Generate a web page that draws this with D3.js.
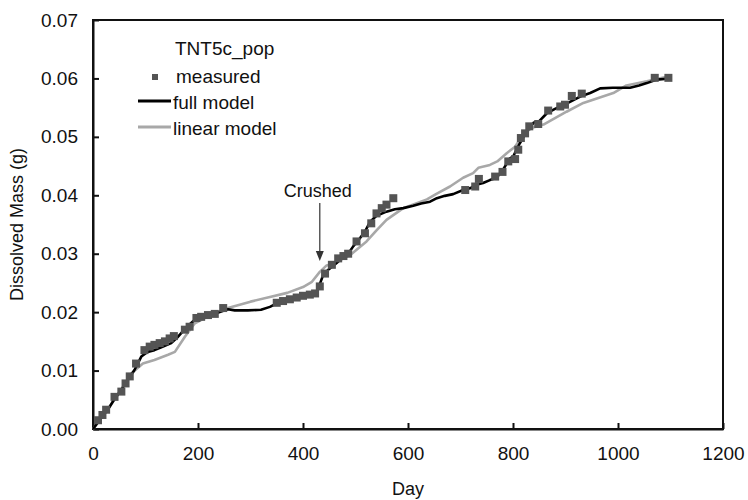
<!DOCTYPE html>
<html><head><meta charset="utf-8">
<script src="https://cdn.jsdelivr.net/npm/d3@7"></script>
<style>
html,body{margin:0;padding:0;background:#fff;}
text{font-family:"Liberation Sans",Arial,sans-serif;fill:#111;}
</style></head>
<body>
<svg id="chart" width="748" height="500"></svg>
<script>
// ---- data ----
const measuredDay = [9.5,18,25,41,54,62,70,82,98,108,117,127,137,146,154,175,184,197,206,219,232,248,350,362,375,388,400,413,423,432,442,455,467,477,486,502,518,530,540,550,559,572,709,728,735,766,780,791,804,810,815,823,831,848,867,890,899,912,931,1070,1096];
const measuredMass = [0.0015,0.0024,0.0033,0.0055,0.0064,0.0078,0.0090,0.0112,0.0135,0.0141,0.0144,0.0147,0.0150,0.0155,0.0159,0.0170,0.0175,0.0190,0.0192,0.0195,0.0197,0.0207,0.0216,0.0219,0.0222,0.0225,0.0228,0.0230,0.0232,0.0244,0.0266,0.0281,0.0292,0.0296,0.0300,0.0321,0.0335,0.0352,0.0369,0.0378,0.0384,0.0395,0.0409,0.0415,0.0428,0.0432,0.0440,0.0458,0.0462,0.0478,0.0498,0.0506,0.0518,0.0522,0.0545,0.0552,0.0555,0.0570,0.0574,0.0601,0.0601];

const fullDay = [0,10,20,29,40,54,66,79,92,104,117,130,149,160,168,180,194,207,219,232,244,257,270,295,320,337,350,369,385,400,415,426,432,439,450,464,475,486,496,508,518,528,540,559,575,591,610,625,642,655,670,686,705,718,730,743,756,769,781,794,800,813,826,839,850,864,880,902,928,947,966,990,1023,1040,1055,1074,1099];
const fullMass = [0,0.0012,0.0024,0.0034,0.0050,0.0067,0.0084,0.0101,0.0124,0.0132,0.0135,0.0140,0.0147,0.0156,0.0164,0.0176,0.0187,0.0192,0.0195,0.0197,0.0201,0.0205,0.0203,0.0203,0.0204,0.0209,0.0215,0.0218,0.0222,0.0226,0.0229,0.0232,0.0248,0.0265,0.0274,0.0284,0.0293,0.0300,0.0313,0.0326,0.0338,0.0355,0.0365,0.0372,0.0376,0.0378,0.0382,0.0386,0.0389,0.0395,0.0399,0.0402,0.0409,0.0412,0.0418,0.0421,0.0426,0.0430,0.0444,0.0463,0.0466,0.0489,0.0509,0.0524,0.0527,0.0540,0.0548,0.0557,0.0569,0.0575,0.0583,0.0584,0.0584,0.0588,0.0592,0.0598,0.0600];

const linearDay = [0,29,50,73,95,117,143,156,175,194,219,257,300,337,370,400,417,432,445,458,490,521,540,559,591,636,655,680,705,724,734,756,770,788,804,820,835,858,880,902,934,991,1016,1055,1093];
const linearMass = [0,0.0035,0.0062,0.0095,0.0112,0.0118,0.0127,0.0132,0.0158,0.0181,0.0193,0.0207,0.0218,0.0226,0.0233,0.0243,0.0252,0.0269,0.0280,0.0283,0.0298,0.0321,0.0340,0.0358,0.0378,0.0393,0.0403,0.0415,0.0430,0.0438,0.0447,0.0452,0.0458,0.0472,0.0483,0.0505,0.0515,0.0521,0.0532,0.0543,0.0558,0.0575,0.0588,0.0595,0.0603];

const xTicks = [0,200,400,600,800,1000,1200];
const yTicks = [0,0.01,0.02,0.03,0.04,0.05,0.06,0.07];
const legendTitle = "TNT5c_pop";
const seriesNames = ["measured","full model","linear model"];
const crushedDay = 432;
const crushedLabel = "Crushed";

// ---- layout ----
const svg = d3.select("#chart");
const L = 93, R = 723, T = 20, B = 429;
const x = d3.scaleLinear().domain([0,1200]).range([L,R]);
const y = d3.scaleLinear().domain([0,0.07]).range([B,T]);

// frame
svg.append("rect").attr("x",L).attr("y",T).attr("width",R-L).attr("height",B-T)
  .attr("fill","none").attr("stroke","#111").attr("stroke-width",2);

// axes with inward ticks
const xAxis = d3.axisBottom(x).tickValues(xTicks).tickSizeInner(-6).tickSizeOuter(0).tickPadding(18)
  .tickFormat(d3.format("d"));
const gx = svg.append("g").attr("transform",`translate(0,${B})`).call(xAxis);
const yAxis = d3.axisLeft(y).tickValues(yTicks).tickSizeInner(-6).tickSizeOuter(0).tickPadding(15)
  .tickFormat(d3.format(".2f"));
const gy = svg.append("g").attr("transform",`translate(${L},0)`).call(yAxis);
[gx,gy].forEach(g=>{
  g.select(".domain").attr("stroke","#111").attr("stroke-width",2);
  g.selectAll(".tick line").attr("stroke","#111").attr("stroke-width",2);
  g.selectAll(".tick text").style("font-family","'Liberation Sans',Arial,sans-serif")
    .style("font-size","19px").attr("fill","#111");
});

// axis titles
svg.append("text").attr("x",(L+R)/2).attr("y",495).attr("text-anchor","middle")
  .style("font-size","18px").text("Day");
svg.append("text").attr("transform",`translate(23,${(T+B)/2}) rotate(-90)`)
  .attr("text-anchor","middle").style("font-size","18px").text("Dissolved Mass (g)");

// lines
const line = d3.line().x(d=>x(d[0])).y(d=>y(d[1]));
const linPts = linearDay.map((d,i)=>[d,linearMass[i]]);
const fullPts = fullDay.map((d,i)=>[d,fullMass[i]]);
const measPts = measuredDay.map((d,i)=>[d,measuredMass[i]]);

svg.append("path").datum(linPts).attr("d",line).attr("fill","none")
  .attr("stroke","#a8a8a8").attr("stroke-width",2.6).attr("stroke-linejoin","round");
svg.append("path").datum(fullPts).attr("d",line).attr("fill","none")
  .attr("stroke","#000").attr("stroke-width",2.6).attr("stroke-linejoin","round");

const ms = 8;
svg.append("g").selectAll("rect").data(measPts).join("rect")
  .attr("x",d=>x(d[0])-ms/2).attr("y",d=>y(d[1])-ms/2)
  .attr("width",ms).attr("height",ms).attr("fill","#545454");

// crushed annotation
const cx = x(crushedDay);
svg.append("text").attr("x",cx-2).attr("y",197).attr("text-anchor","middle")
  .style("font-size","18px").text(crushedLabel);
svg.append("line").attr("x1",cx).attr("x2",cx).attr("y1",203).attr("y2",254)
  .attr("stroke","#333").attr("stroke-width",1.2);
svg.append("path").attr("d",`M${cx-4},${251} L${cx+4},${251} L${cx},${261} Z`).attr("fill","#333");

// legend
const lg = svg.append("g");
lg.append("text").attr("x",175).attr("y",55).style("font-size","19px").text(legendTitle);
lg.append("rect").attr("x",155-3).attr("y",77-3).attr("width",6).attr("height",6).attr("fill","#545454");
lg.append("text").attr("x",176).attr("y",83).style("font-size","19px").text(seriesNames[0]);
lg.append("line").attr("x1",138).attr("x2",171).attr("y1",101).attr("y2",101)
  .attr("stroke","#000").attr("stroke-width",2.8);
lg.append("text").attr("x",173).attr("y",109).style("font-size","19px").text(seriesNames[1]);
lg.append("line").attr("x1",138).attr("x2",171).attr("y1",127).attr("y2",127)
  .attr("stroke","#a8a8a8").attr("stroke-width",2.8);
lg.append("text").attr("x",173).attr("y",135).style("font-size","19px").text(seriesNames[2]);
</script>
</body></html>
